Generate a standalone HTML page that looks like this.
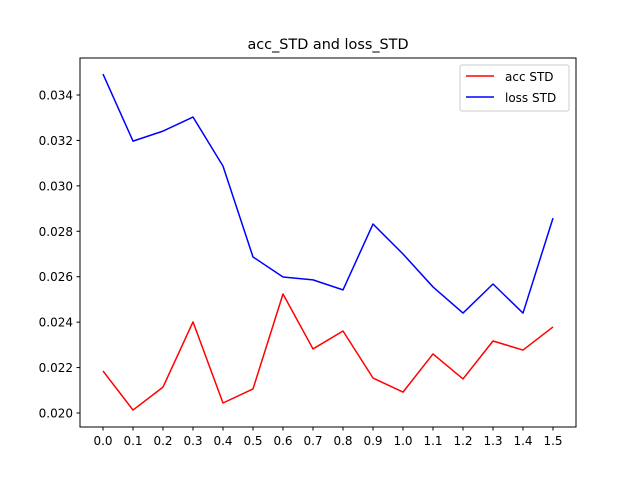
<!DOCTYPE html>
<html><head><meta charset="utf-8"><style>
body{margin:0;background:#fff;}
svg{font-family:"DejaVu Sans","Liberation Sans",sans-serif;}
</style></head><body>
<svg id="chart" width="640" height="480" xmlns="http://www.w3.org/2000/svg">
<rect width="640" height="480" fill="#fff"/>
<text x="328" y="49" text-anchor="middle" font-size="14.4">acc_STD and loss_STD</text>
<g id="grid"></g>
<g id="series"></g>
<rect x="80" y="58" width="496" height="369" fill="none" stroke="#000" stroke-width="1"/>
<g>
<rect x="460" y="65" width="109" height="46" fill="#fff" stroke="#ccc" rx="2"/>
<line x1="466" y1="76" x2="494" y2="76" stroke="red" stroke-width="1.5"/>
<text x="505" y="81" font-size="12">acc STD</text>
<line x1="466" y1="97" x2="494" y2="97" stroke="blue" stroke-width="1.5"/>
<text x="505" y="102" font-size="12">loss STD</text>
</g>
</svg>
<script>
const xCats=[0.0,0.1,0.2,0.3,0.4,0.5,0.6,0.7,0.8,0.9,1.0,1.1,1.2,1.3,1.4,1.5];
const accSTD=[0.02185,0.02013,0.02114,0.02401,0.02044,0.02106,0.02524,0.02282,0.02361,0.02154,0.02092,0.0226,0.0215,0.02317,0.02277,0.02379];
const lossSTD=[0.03492,0.03197,0.03241,0.03303,0.03087,0.02687,0.02599,0.02586,0.02542,0.02832,0.027,0.02555,0.0244,0.02568,0.0244,0.02858];
const yTicks=[0.020,0.022,0.024,0.026,0.028,0.030,0.032,0.034];
const NS="http://www.w3.org/2000/svg";
function xs(v){return 103+(v-0)/1.5*450;}
function ys(v){return 413-(v-0.020)/0.014*318;}
const g=document.getElementById('grid'), s=document.getElementById('series');
function mk(tag,attrs,parent){const e=document.createElementNS(NS,tag);for(const k in attrs)e.setAttribute(k,attrs[k]);parent.appendChild(e);return e;}
xCats.forEach(v=>{
  const t=mk('line',{x1:xs(v),x2:xs(v),y1:427,y2:430.5,stroke:'#000'},g);
  
  
  const l=mk('text',{x:xs(v),y:445,'text-anchor':'middle','font-size':12},g);
  
  
  l.textContent=v.toFixed(1);
});
yTicks.forEach(v=>{
  const t=mk('line',{x1:76.5,x2:80,y1:ys(v),y2:ys(v),stroke:'#000'},g);
  
  
  const l=mk('text',{x:73,y:ys(v)+4.5,'text-anchor':'end','font-size':12},g);
  
  
  l.textContent=v.toFixed(3);
});
function line(arr,color,name){
  const p=mk('polyline',{points:arr.map((v,i)=>xs(xCats[i])+','+ys(v)).join(' '),fill:'none',stroke:color,'stroke-width':1.5,'stroke-linejoin':'round'},s);
  
  
}
line(accSTD,'red','acc-std-line');
line(lossSTD,'blue','loss-std-line');
</script>
</body></html>
